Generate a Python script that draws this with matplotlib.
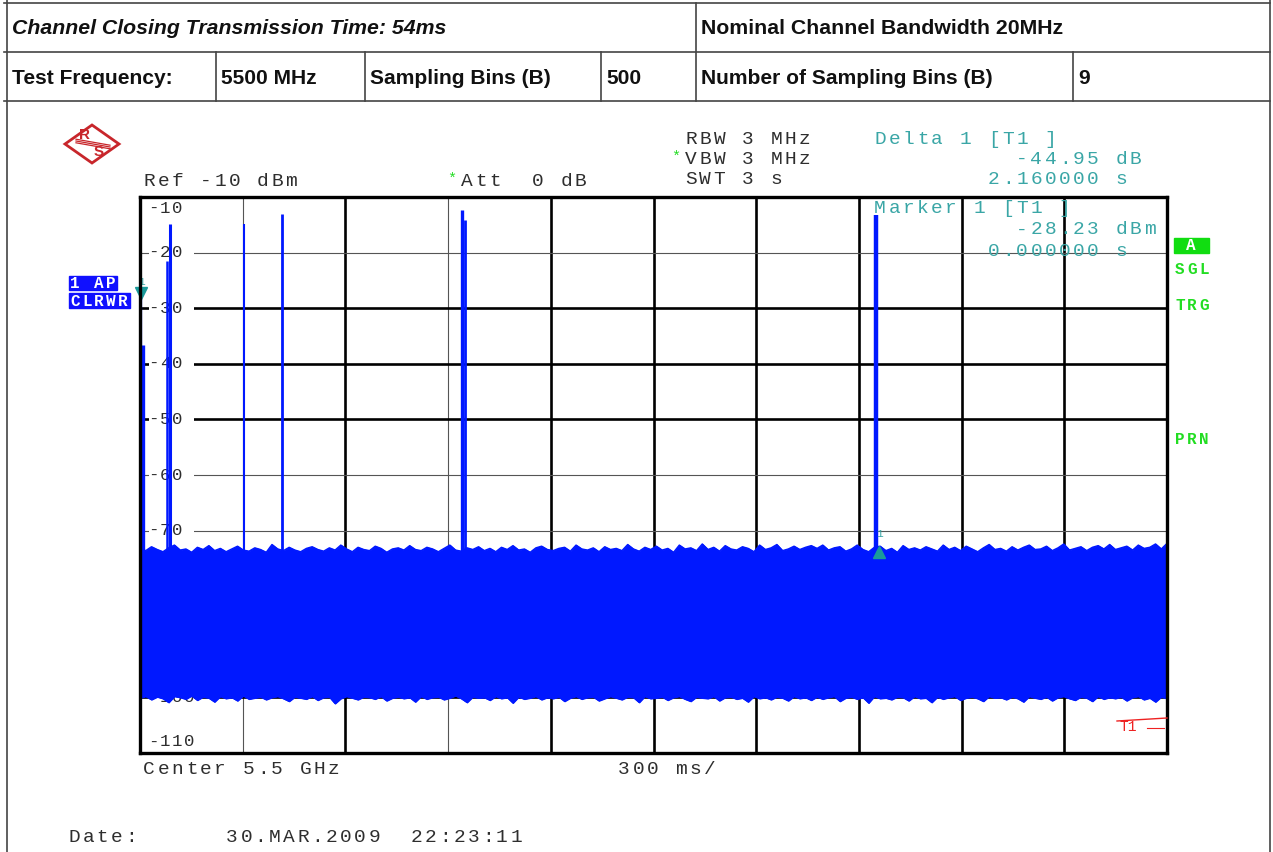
import numpy as np
import matplotlib
matplotlib.use("Agg")
import matplotlib.pyplot as plt
from matplotlib.lines import Line2D
from matplotlib.patches import Rectangle, Polygon

W, H = 1273, 852

# ---------------- data ----------------
sweep_time_s = 3.0
y_ref, y_bottom = -10, -110
y_tick_values = [-10, -20, -30, -40, -50, -60, -70, -80, -90, -100, -110]
y_tick_labels = ["-10", "-20", "-30", "-40", "-50", "-60", "-70", "-80", "-90", "-100", "-110"]

# pulse (burst) peaks : time [s], level [dBm]
spike_t = [0.002, 0.010, 0.079, 0.087, 0.303, 0.415, 0.941, 0.950, 2.150]
spike_db = [-28.2, -36.7, -21.5, -14.8, -14.8, -13.0, -12.4, -14.2, -13.2]

# noise band envelopes (max / min of the trace), read across the sweep
noise_upper = [
    -73.2, -73.6, -72.9, -73.4, -73.8, -73.1, -72.6, -73.5, -73.3, -73.9,
    -73.0, -73.4, -72.7, -73.6, -73.2, -73.8, -73.3, -72.8, -73.5, -73.7,
    -73.1, -73.4, -73.9, -72.5, -73.3, -73.6, -73.0, -73.5, -73.8, -73.2,
    -72.9, -73.4, -73.7, -73.1, -73.5, -72.6, -73.3, -73.8, -73.0, -73.4,
    -73.6, -72.8, -73.2, -73.9, -73.3, -73.1, -73.5, -72.7, -73.4, -73.6,
    -73.0, -73.3, -73.8, -73.2, -72.6, -73.5, -73.7, -73.1, -73.4, -72.9,
    -73.6, -73.2, -73.8, -73.0, -73.4, -72.7, -73.5, -73.3, -73.9, -73.1,
    -72.8, -73.4, -73.6, -73.2, -73.0, -73.7, -72.6, -73.3, -73.5, -73.1,
    -73.8, -72.9, -73.4, -73.2, -73.6, -72.5, -73.3, -73.7, -73.0, -73.4,
    -72.8, -73.5, -73.2, -73.9, -72.6, -73.3, -73.1, -73.6, -72.4, -73.4,
    -73.0, -73.7, -72.7, -73.3, -73.5, -72.9, -73.2, -73.8, -72.6, -73.4,
    -73.1, -72.5, -73.6, -73.3, -72.8, -73.4, -73.0, -72.7, -73.2, -72.6,
    -73.5, -73.1, -72.9, -73.7, -73.3, -72.6, -73.4, -73.8, -73.0, -72.8,
    -73.6, -73.2, -73.9, -72.7, -73.4, -73.1, -73.5, -72.9, -73.3, -73.7,
    -72.6, -73.4, -73.0, -73.6, -72.8, -73.3, -73.8, -73.1, -72.5, -73.4,
    -73.2, -73.7, -72.9, -73.5, -73.0, -72.6, -73.4, -73.3, -72.8, -73.6,
    -73.1, -72.4, -73.5, -73.2, -72.9, -73.6, -73.0, -72.7, -73.3, -72.5,
    -73.4, -73.1, -72.8, -73.5, -72.6, -73.2, -73.0, -72.4, -73.3, -72.3,
]
noise_lower = [
    -100.1, -99.8, -100.4, -99.9, -100.2, -100.9, -99.8, -100.0, -100.3, -99.7,
    -100.5, -99.9, -100.1, -100.8, -99.8, -100.2, -100.0, -100.6, -99.7, -100.3,
    -100.1, -99.9, -100.4, -100.0, -99.8, -100.2, -100.7, -99.9, -100.1, -100.3,
    -99.8, -100.5, -100.0, -99.9, -101.1, -100.2, -99.8, -100.1, -100.4, -99.9,
    -100.0, -100.3, -99.8, -100.6, -100.1, -99.9, -100.2, -100.0, -100.8, -99.8,
    -100.3, -100.0, -99.9, -100.4, -100.1, -99.7, -100.2, -100.9, -99.9, -100.1,
    -100.0, -100.5, -99.8, -100.2, -100.0, -101.0, -99.9, -100.3, -100.1, -99.8,
    -100.4, -100.0, -100.2, -99.9, -100.7, -100.1, -99.8, -100.3, -100.0, -99.9,
    -100.6, -100.2, -99.8, -100.1, -100.4, -99.9, -100.0, -100.9, -99.8, -100.2,
    -100.1, -99.9, -100.5, -100.0, -99.8, -100.3, -100.7, -99.9, -100.1, -100.2,
    -99.8, -100.6, -100.0, -99.9, -100.3, -100.1, -100.8, -99.8, -100.2, -100.0,
    -100.4, -99.9, -100.1, -100.6, -99.8, -100.2, -100.0, -100.5, -99.9, -100.3,
    -100.0, -99.8, -100.7, -100.1, -99.9, -100.3, -100.0, -101.0, -99.8, -100.2,
    -100.1, -100.4, -99.9, -100.0, -100.6, -99.8, -100.2, -100.1, -100.9, -99.9,
    -100.3, -100.0, -99.8, -100.5, -100.1, -99.9, -100.2, -100.7, -99.8, -100.1,
    -100.0, -100.4, -99.9, -100.2, -100.8, -99.8, -100.1, -100.3, -99.9, -100.6,
    -100.0, -99.8, -100.2, -100.5, -99.9, -100.1, -100.7, -99.8, -100.3, -100.0,
    -100.2, -99.9, -100.6, -100.0, -99.8, -100.4, -100.1, -100.8, -99.9, -100.2,
]

marker1_t, marker1_db = 0.0, -28.23
delta_t, delta_db = 2.16, -44.95

table_row1 = [("Channel Closing Transmission Time: 54ms", 12, True),
              ("Nominal Channel Bandwidth 20MHz", 701, False)]
table_row2 = [("Test Frequency:", 12), ("5500 MHz", 221), ("Sampling Bins (B)", 370),
              ("500", 606), ("Number of Sampling Bins (B)", 701), ("9", 1078)]

# ---------------- helpers ----------------
fig = plt.figure(figsize=(W / 100, H / 100), dpi=100)
fig.patch.set_facecolor("white")


def fx(x):
    return x / W


def fy(y):
    return 1 - y / H


def hline(x0, x1, y, lw=1.2, color="#444444"):
    fig.add_artist(Line2D([fx(x0), fx(x1)], [fy(y), fy(y)], lw=lw, color=color))


def vline(x, y0, y1, lw=1.2, color="#444444"):
    fig.add_artist(Line2D([fx(x), fx(x)], [fy(y0), fy(y1)], lw=lw, color=color))


MONO = "Liberation Mono"
STEP = 14.2


def mono(x, y, s, color="#2e2e2e", size=14, step=STEP, weight="normal", zorder=5):
    for i, ch in enumerate(s):
        if ch != " ":
            fig.text(fx(x + i * step + step / 2), fy(y), ch, ha="center", va="center",
                     family=MONO, fontsize=size, color=color, weight=weight, zorder=zorder)


# ---------------- table / page frame ----------------
hline(4, 1270, 3)
hline(4, 1270, 52)
hline(4, 1270, 101)
vline(7, 0, 852)
vline(1270, 0, 852)
vline(696, 3, 101)
for xc in [216, 365, 601, 1073]:
    vline(xc, 52, 101)

for txt, x, ital in table_row1:
    fig.text(fx(x), fy(29), txt, ha="left", va="center", family="Liberation Sans",
             weight="bold", style="italic" if ital else "normal", fontsize=15.3, color="#111111")
for txt, x in table_row2:
    fig.text(fx(x), fy(78), txt, ha="left", va="center", family="Liberation Sans",
             weight="bold", fontsize=15.1, color="#111111")

# ---------------- R&S logo ----------------
red = "#c8262b"
fig.add_artist(Polygon([(fx(65), fy(144)), (fx(92), fy(125)), (fx(119), fy(144)), (fx(92), fy(163))],
                       closed=True, fill=False, edgecolor=red, lw=2.0))
for off in (-1.8, 0, 1.8):
    fig.add_artist(Line2D([fx(76), fx(110)], [fy(141 + off), fy(147 + off)], lw=0.9, color=red))
fig.text(fx(85), fy(135), "R", ha="center", va="center", family="Liberation Sans",
         weight="bold", fontsize=11, color=red)
fig.text(fx(99), fy(152), "S", ha="center", va="center", family="Liberation Sans",
         weight="bold", fontsize=11, color=red)

# ---------------- instrument header text ----------------
teal = "#3aa6a6"
green = "#22dd22"
mono(142, 181, "Ref -10 dBm")
fig.text(fx(452), fy(179), "*", ha="center", va="center", family=MONO, fontsize=11, color=green)
mono(460, 181, "Att  0 dB")
mono(684, 139, "RBW 3 MHz")
fig.text(fx(676), fy(157), "*", ha="center", va="center", family=MONO, fontsize=11, color=green)
mono(684, 159, "VBW 3 MHz")
mono(684, 180, "SWT 3 s")

mono(873, 139, "Delta 1 [T1 ]", color=teal)
mono(873 + 10 * STEP, 159, "-44.95 dB", color=teal)
mono(873 + 8 * STEP, 180, "2.160000 s", color=teal)
mono(873, 209, "Marker 1 [T1 ]", color=teal)
mono(873 + 10 * STEP, 230, "-28.23 dBm", color=teal)
mono(873 + 8 * STEP, 251, "0.000000 s", color=teal)

mono(142, 769, "Center 5.5 GHz")
mono(617, 769, "300 ms/")
mono(67, 837, "Date:")
mono(225, 837, "30.MAR.2009  22:23:11")

# left trace-info boxes
blue_box = "#1010ff"
fig.add_artist(Rectangle((fx(69), fy(290)), fx(48), 14 / H, color=blue_box))
fig.add_artist(Rectangle((fx(69), fy(308)), fx(61), 15 / H, color=blue_box))
mono(69, 283, "1 AP", color="white", size=11.5, step=12, weight="bold")
mono(69, 301, "CLRWR", color="white", size=11.5, step=12, weight="bold")

# right status labels
fig.add_artist(Rectangle((fx(1174), fy(253)), fx(35), 15 / H, color="#11dd11"))
mono(1185, 246, "A", color="white", size=11.5, step=12, weight="bold")
for lab, yy in [("SGL", 269), ("TRG", 306), ("PRN", 439)]:
    mono(1174, yy, lab, color=green, size=11.5, step=12, weight="bold")

# ---------------- the trace axes ----------------
ax = fig.add_axes([fx(140), fy(753), fx(1027), 556 / H])
ax.set_xlim(0, sweep_time_s)
ax.set_ylim(y_bottom, y_ref)
ax.set_xticks([])
ax.set_yticks([])
for sp in ax.spines.values():
    sp.set_linewidth(2.4)
    sp.set_color("black")
    sp.set_zorder(10)

thin = dict(lw=0.8, color="#555555")
thick = dict(lw=1.9, color="black")
v_styles = [thin, thick, thin, thick, thick, thick, thick, thick, thick]
for k, st in enumerate(v_styles, start=1):
    ax.axvline(k * sweep_time_s / 10, zorder=1, **st)
h_styles = {-20: thin, -30: thick, -40: thick, -50: thick, -60: thin, -70: thin,
            -80: thin, -90: thin, -100: thick}
for yv, st in h_styles.items():
    ax.axhline(yv, zorder=1, **st)

# y labels inside the grid (under the trace)
for val, lab in zip(y_tick_values, y_tick_labels):
    ypos = val
    if val == y_ref:
        ypos = val - 2
    elif val == y_bottom:
        ypos = val + 2
    for i, ch in enumerate(lab):
        ax.text(0.0125 + i * 0.0118, ypos, ch, transform=ax.get_yaxis_transform(),
                ha="center", va="center", family=MONO, fontsize=12.5, color="#2e2e2e",
                zorder=2)
    if val not in (y_ref, y_bottom):
        ax.add_patch(Rectangle((0.009, val - 1.0), 0.044, 2.0,
                               transform=ax.get_yaxis_transform(),
                               facecolor="white", edgecolor="none", zorder=1.5))

trace_blue = "#0018ff"
n = len(noise_upper)
tn = np.linspace(0, sweep_time_s, n)
ax.fill_between(tn, noise_lower, noise_upper, color=trace_blue, lw=0.8, zorder=3)
ax.plot(tn, noise_upper, color=trace_blue, lw=1.0, zorder=3)
ax.plot(tn, noise_lower, color=trace_blue, lw=1.0, zorder=3)

spike_lw = [1.6, 2.4, 1.8, 2.2, 1.5, 2.0, 2.4, 2.0, 3.2]
ax.vlines(spike_t, -100, spike_db, colors=trace_blue, lw=spike_lw, zorder=3)

# markers
ax.plot([marker1_t + 0.004], [marker1_db + 0.9], marker="v", ms=8, color="#1a9a9a",
        zorder=8, clip_on=False, lw=0)
ax.text(marker1_t + 0.004, marker1_db + 3.0, "1", ha="center", va="center",
        family=MONO, fontsize=8, color=teal, zorder=8, clip_on=False)
delta_abs = marker1_db + delta_db
ax.plot([delta_t], [delta_abs - 0.7], marker="^", ms=8, color="#1a9a9a", zorder=8, lw=0)
ax.text(delta_t, delta_abs + 2.5, "1", ha="center", va="center",
        family=MONO, fontsize=8, color=teal, zorder=8)

# threshold T1 line (red)
fig.add_artist(Line2D([fx(1117), fx(1167)], [fy(721), fy(718)], lw=1.0, color="#ee2222", zorder=11))
fig.text(fx(1120), fy(727), "T1", ha="left", va="center", family=MONO, fontsize=10.5,
         color="#ee2222", zorder=11)
fig.add_artist(Line2D([fx(1147), fx(1164)], [fy(728), fy(728)], lw=0.8, color="#ee2222", zorder=11))

fig.savefig("out.png", dpi=100, facecolor="white")
